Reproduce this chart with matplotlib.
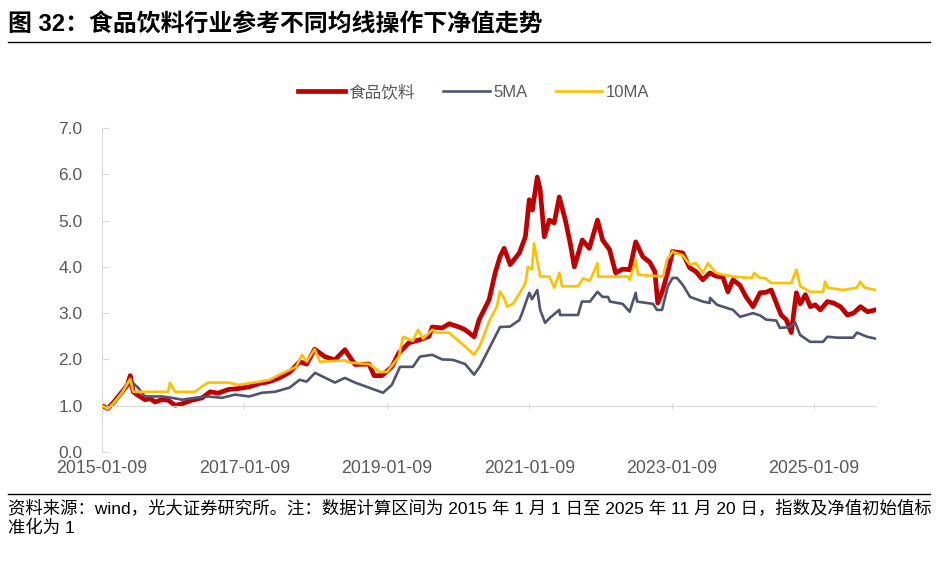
import matplotlib
matplotlib.use('Agg')
import matplotlib.pyplot as plt
import matplotlib.dates as mdates
from matplotlib.lines import Line2D
from matplotlib.ticker import FormatStrFormatter
import numpy as np
import pandas as pd

plt.rcParams['font.family'] = ['Liberation Sans', 'Noto Sans CJK SC', 'DejaVu Sans']

# ---- data ----
red_dates = ["2015-01-09", "2015-02-09", "2015-03-15", "2015-04-22", "2015-05-20", "2015-06-03",
             "2015-06-18", "2015-07-08", "2015-08-18", "2015-09-15", "2015-10-08", "2015-11-13",
             "2015-12-14", "2016-01-19", "2016-02-23", "2016-04-15", "2016-06-06", "2016-07-17",
             "2016-08-27", "2016-10-18", "2016-12-08", "2017-02-03", "2017-03-27", "2017-05-17",
             "2017-07-07", "2017-08-28", "2017-10-19", "2017-11-24", "2018-01-04", "2018-02-25",
             "2018-04-18", "2018-06-08", "2018-07-30", "2018-10-10", "2018-11-05", "2018-12-15",
             "2019-02-04", "2019-03-12", "2019-05-03", "2019-06-24", "2019-08-14", "2019-08-30",
             "2019-10-20", "2019-11-25", "2020-01-15", "2020-02-15", "2020-04-01", "2020-04-27",
             "2020-06-17", "2020-07-18", "2020-08-12", "2020-09-02", "2020-10-03", "2020-11-19",
             "2020-12-20", "2021-01-09", "2021-01-25", "2021-02-19", "2021-03-06", "2021-03-27",
             "2021-04-22", "2021-05-17", "2021-06-12", "2021-07-13", "2021-08-07", "2021-08-28",
             "2021-10-08", "2021-11-13", "2021-12-25", "2022-01-20", "2022-02-25", "2022-03-28",
             "2022-05-03", "2022-06-08", "2022-07-09", "2022-08-14", "2022-09-19", "2022-10-15",
             "2022-10-30", "2022-11-25", "2022-12-21", "2023-01-14", "2023-03-07", "2023-04-12",
             "2023-05-13", "2023-06-18", "2023-07-24", "2023-08-24", "2023-09-29", "2023-10-25",
             "2023-11-20", "2023-12-26", "2024-01-26", "2024-03-02", "2024-04-07", "2024-05-08",
             "2024-06-03", "2024-06-29", "2024-07-24", "2024-08-19", "2024-09-14", "2024-10-10",
             "2024-10-30", "2024-11-25", "2024-12-21", "2025-01-15", "2025-02-10", "2025-03-18",
             "2025-04-18", "2025-05-24", "2025-06-29", "2025-07-30", "2025-09-04", "2025-10-10",
             "2025-11-20"]
red_vals = [1.00, 0.94, 1.10, 1.30, 1.45, 1.65,
            1.30, 1.24, 1.13, 1.15, 1.08, 1.13,
            1.12, 1.01, 1.04, 1.12, 1.17, 1.30,
            1.27, 1.35, 1.37, 1.41, 1.48, 1.52,
            1.60, 1.72, 1.95, 1.90, 2.22, 2.06,
            1.99, 2.21, 1.89, 1.90, 1.65, 1.65,
            1.84, 2.14, 2.36, 2.42, 2.50, 2.70,
            2.68, 2.77, 2.70, 2.64, 2.49, 2.86,
            3.29, 3.87, 4.22, 4.40, 4.05, 4.30,
            4.65, 5.45, 5.23, 5.94, 5.66, 4.65,
            5.01, 4.95, 5.51, 5.01, 4.51, 4.00,
            4.58, 4.40, 5.01, 4.58, 4.37, 3.87,
            3.95, 3.94, 4.54, 4.22, 4.10, 3.90,
            3.22, 3.50, 3.90, 4.33, 4.30, 3.98,
            3.90, 3.72, 3.87, 3.80, 3.78, 3.46,
            3.72, 3.60, 3.35, 3.14, 3.44, 3.45,
            3.50, 3.22, 2.96, 2.86, 2.58, 3.44,
            3.20, 3.40, 3.14, 3.18, 3.07, 3.25,
            3.22, 3.14, 2.96, 3.00, 3.14, 3.03,
            3.07]

ma5_dates = ["2015-01-09", "2015-02-09", "2015-03-15", "2015-04-22", "2015-06-03", "2015-06-27",
             "2015-07-13", "2015-08-18", "2015-11-13", "2016-01-03", "2016-02-23", "2016-04-30",
             "2016-07-06", "2016-09-16", "2016-11-21", "2017-02-03", "2017-04-09", "2017-06-14",
             "2017-08-28", "2017-10-19", "2017-11-24", "2018-01-06", "2018-04-18", "2018-06-08",
             "2018-07-30", "2018-10-10", "2018-12-21", "2019-02-04", "2019-03-18", "2019-05-23",
             "2019-06-28", "2019-08-30", "2019-10-20", "2019-12-15", "2020-02-15", "2020-04-01",
             "2020-05-01", "2020-07-02", "2020-08-12", "2020-10-02", "2020-11-19", "2020-12-03",
             "2021-01-09", "2021-01-23", "2021-02-19", "2021-03-06", "2021-03-31", "2021-04-25",
             "2021-06-12", "2021-06-16", "2021-09-16", "2021-10-06", "2021-11-16", "2021-12-25",
             "2022-01-20", "2022-02-17", "2022-02-27", "2022-05-03", "2022-06-08", "2022-07-09",
             "2022-07-16", "2022-10-06", "2022-10-26", "2022-11-21", "2022-12-21", "2023-01-14",
             "2023-02-06", "2023-03-09", "2023-04-14", "2023-06-18", "2023-07-24", "2023-07-25",
             "2023-08-30", "2023-11-20", "2023-12-26", "2024-03-02", "2024-04-07", "2024-05-08",
             "2024-06-29", "2024-07-18", "2024-09-07", "2024-10-03", "2024-10-29", "2024-12-19",
             "2025-02-24", "2025-03-18", "2025-05-07", "2025-07-28", "2025-08-17", "2025-10-08",
             "2025-11-20"]
ma5_vals = [1.00, 0.93, 1.10, 1.30, 1.55, 1.45,
            1.39, 1.20, 1.20, 1.17, 1.13, 1.17,
            1.20, 1.17, 1.24, 1.20, 1.28, 1.30,
            1.39, 1.56, 1.52, 1.71, 1.50, 1.60,
            1.50, 1.39, 1.28, 1.45, 1.84, 1.84,
            2.06, 2.10, 2.00, 1.99, 1.90, 1.67,
            1.85, 2.36, 2.70, 2.71, 2.85, 3.00,
            3.44, 3.30, 3.50, 3.07, 2.79, 2.90,
            3.07, 2.96, 2.96, 3.25, 3.25, 3.46,
            3.35, 3.35, 3.25, 3.20, 3.03, 3.44,
            3.25, 3.20, 3.07, 3.07, 3.58, 3.76,
            3.76, 3.60, 3.35, 3.25, 3.22, 3.33,
            3.18, 3.07, 2.92, 3.00, 2.95, 2.86,
            2.84, 2.68, 2.70, 2.81, 2.53, 2.38,
            2.38, 2.49, 2.47, 2.47, 2.58, 2.49,
            2.45]

ma10_dates = ["2015-01-09", "2015-02-09", "2015-03-15", "2015-04-22", "2015-06-03", "2015-06-18",
              "2015-12-14", "2015-12-24", "2016-01-19", "2016-04-30", "2016-06-06", "2016-07-06",
              "2016-10-18", "2016-12-08", "2017-03-27", "2017-05-17", "2017-07-07", "2017-10-01",
              "2017-10-31", "2017-11-24", "2018-01-04", "2018-01-31", "2018-06-08", "2018-07-04",
              "2018-10-10", "2018-12-05", "2019-01-10", "2019-03-12", "2019-04-02", "2019-05-23",
              "2019-06-18", "2019-07-14", "2019-08-30", "2019-09-24", "2019-11-25", "2019-12-15",
              "2020-02-15", "2020-04-01", "2020-05-01", "2020-06-21", "2020-07-27", "2020-08-12",
              "2020-09-06", "2020-09-17", "2020-10-17", "2020-11-22", "2020-12-20", "2021-01-02",
              "2021-01-23", "2021-02-02", "2021-03-06", "2021-04-22", "2021-05-17", "2021-06-12",
              "2021-06-26", "2021-09-16", "2021-10-12", "2021-11-16", "2021-12-25", "2021-12-28",
              "2022-05-30", "2022-06-08", "2022-07-09", "2022-07-21", "2022-11-26", "2022-12-16",
              "2023-01-14", "2023-03-07", "2023-04-12", "2023-05-13", "2023-06-19", "2023-07-15",
              "2023-08-24", "2023-09-30", "2023-11-20", "2024-02-26", "2024-03-07", "2024-04-07",
              "2024-05-02", "2024-06-03", "2024-09-14", "2024-10-10", "2024-10-30", "2024-12-21",
              "2025-02-24", "2025-03-06", "2025-03-21", "2025-06-06", "2025-08-17", "2025-09-02",
              "2025-09-27", "2025-11-20"]
ma10_vals = [1.00, 0.93, 1.08, 1.28, 1.58, 1.30,
             1.30, 1.50, 1.30, 1.30, 1.42, 1.50,
             1.50, 1.45, 1.52, 1.56, 1.67, 1.84,
             2.10, 1.95, 2.22, 1.95, 1.98, 1.93,
             1.90, 1.73, 1.73, 2.06, 2.49, 2.40,
             2.64, 2.45, 2.64, 2.58, 2.58, 2.50,
             2.28, 2.10, 2.30, 2.86, 3.14, 3.47,
             3.29, 3.14, 3.20, 3.44, 3.65, 4.00,
             3.95, 4.51, 3.79, 3.79, 3.55, 3.87,
             3.58, 3.58, 3.75, 3.70, 4.08, 3.79,
             3.79, 3.72, 4.15, 3.83, 3.79, 4.15,
             4.33, 4.25, 4.05, 4.08, 3.87, 4.08,
             3.87, 3.83, 3.79, 3.76, 3.87, 3.76,
             3.76, 3.65, 3.65, 3.94, 3.58, 3.46,
             3.46, 3.68, 3.55, 3.50, 3.55, 3.68,
             3.55, 3.50]

series_names = ["食品饮料", "5MA", "10MA"]
tick_dates = ["2015-01-09", "2017-01-09", "2019-01-09", "2021-01-09", "2023-01-09", "2025-01-09"]

title = "图 32：食品饮料行业参考不同均线操作下净值走势"
note = ("资料来源：wind，光大证券研究所。注：数据计算区间为 2015 年 1 月 1 日至 2025 年 11 月 20 日，指数及净值初始值标\n"
        "准化为 1")

grey_txt = '#595959'
grey_ax = '#D9D9D9'

fig = plt.figure(figsize=(9.38, 5.8), dpi=100)
ax = fig.add_axes([0.1087, 0.2207, 0.8255, 0.5586])

ax.plot(pd.to_datetime(red_dates), red_vals, color='#C00000', lw=3.4,
        solid_joinstyle='round', label=series_names[0], zorder=2)
ax.plot(pd.to_datetime(ma5_dates), ma5_vals, color='#50546F', lw=1.9,
        label=series_names[1], zorder=3)
ax.plot(pd.to_datetime(ma10_dates), ma10_vals, color='#FFC000', lw=1.9,
        label=series_names[2], zorder=4)

ax.set_ylim(0, 7)
ax.set_yticks(np.arange(0, 7.1, 1.0))
ax.yaxis.set_major_formatter(FormatStrFormatter('%.1f'))
ax.set_xlim(pd.Timestamp("2015-01-09"), pd.Timestamp("2025-11-24"))

for s in ['top', 'right']:
    ax.spines[s].set_visible(False)
ax.spines['left'].set_color(grey_ax)
ax.spines['bottom'].set_color(grey_ax)
ax.spines['bottom'].set_position(('data', 1.0))

tick_nums = mdates.date2num(pd.to_datetime(tick_dates))
ax.set_xticks(tick_nums)
ax.tick_params(axis='x', direction='inout', length=5, color=grey_ax, labelbottom=False)
ax.tick_params(axis='y', direction='in', length=5, color=grey_ax, pad=14,
               labelcolor=grey_txt, labelsize=12.5)

sec = ax.secondary_xaxis(0)
sec.set_xticks(tick_nums, tick_dates)
sec.spines['bottom'].set_visible(False)
sec.tick_params(length=0, pad=6, labelcolor=grey_txt, labelsize=12.8)

fig.legend(loc='center', bbox_to_anchor=(0.505, 0.841), ncol=3, frameon=False,
           fontsize=12, handlelength=2.8, handletextpad=0.2, columnspacing=1.7,
           labelcolor=grey_txt)

fig.text(0.009, 0.957, title, fontsize=17.2, weight='bold', va='center', ha='left')
fig.add_artist(Line2D([0.009, 0.991], [0.9276, 0.9276], color='black', lw=1.0))
fig.add_artist(Line2D([0.009, 0.991], [0.148, 0.148], color='black', lw=1.0))
fig.text(0.009, 0.140, note, fontsize=12.5, va='top', ha='left', linespacing=1.3)

fig.savefig('out.png', dpi=100)
